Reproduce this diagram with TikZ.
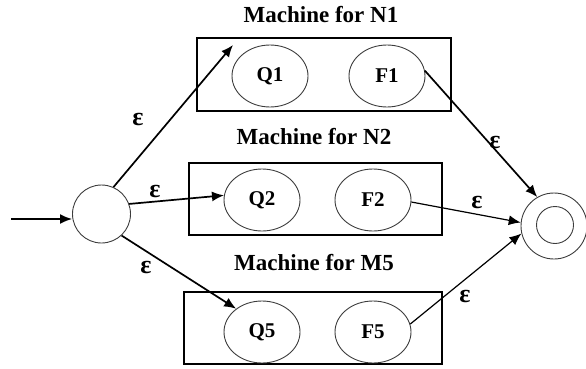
\documentclass[tikz,border=0pt]{standalone}
\usepackage{fontspec}
\setmainfont{Liberation Serif}
\usepackage{tikz}
\usetikzlibrary{shapes.geometric, arrows, arrows.meta, positioning}
\usepackage{xcolor}
\definecolor{stategray}{RGB}{60,60,60}
\tikzstyle{machine} = [rectangle, draw=black, line width=1.3pt, inner sep=0pt, outer sep=0pt]
\tikzstyle{state} = [ellipse, draw=stategray, line width=0.9pt, minimum width=76pt, minimum height=62pt, inner sep=0pt, font=\fontsize{21}{23}\selectfont\bfseries]
\tikzstyle{title} = [font=\fontsize{23}{26}\selectfont\bfseries]
\tikzstyle{eps} = [font=\fontsize{26}{28}\selectfont\bfseries, inner sep=0pt]
\tikzstyle{arrow} = [line width=1.7pt,->,>={Latex[length=12pt,width=10pt]}]
\tikzstyle{thinarrow} = [line width=1.2pt,->,>={Latex[length=12pt,width=10pt]}]

\begin{document}
\begin{tikzpicture}[x=1pt, y=-1pt]
\useasboundingbox (0,0) rectangle (586,369);

% machines
\node[machine, minimum width=254pt, minimum height=73pt] (box1) at (324,74.5) {};
\node[machine, minimum width=253pt, minimum height=72pt] (box2) at (315.5,199) {};
\node[machine, minimum width=258pt, minimum height=72pt] (box3) at (313,328) {};
\node[title] (tN1) at (321,15) {Machine for N1};
\node[title] (tN2) at (314,137) {Machine for N2};
\node[title] (tM5) at (314,263) {Machine for M5};

\node[state] (Q1) at (270,76) {Q1};
\node[state] (F1) at (387,76) {F1};
\node[state] (Q2) at (262,200) {Q2};
\node[state] (F2) at (373,200) {F2};
\node[state] (Q5) at (262,332) {Q5};
\node[state] (F5) at (373,332) {F5};

% start and final states
\node[circle, draw=stategray, line width=0.9pt, minimum size=58pt, inner sep=0pt] (start) at (101.5,214) {};
\node[circle, draw=stategray, line width=0.9pt, minimum size=66pt, inner sep=0pt] (final) at (554,226) {};
\node[circle, draw=stategray, line width=0.9pt, minimum size=37pt, inner sep=0pt] (finalin) at (555,225) {};

\coordinate (in) at (11,219);
\coordinate (top) at (233,45);
\draw[arrow] (in) -- (in -| start.west);
\draw[arrow] (start.66) -- (top);
\draw[arrow] (start.20) -- (Q2.173);
\draw[arrow] (start.-47) -- (Q5.138);
\draw[arrow] (F1.8) -- (final.120);
\draw[thinarrow] (F2.357) -- (final.174);
\draw[thinarrow] (F5.12) -- (final.193);

\node[eps] (e1) at (138,120) {ε};
\node[eps] (e2) at (155,191) {ε};
\node[eps] (e3) at (146,267) {ε};
\node[eps] (e4) at (495,142) {ε};
\node[eps] (e5) at (477,202) {ε};
\node[eps] (e6) at (465,296) {ε};
\end{tikzpicture}
\end{document}
